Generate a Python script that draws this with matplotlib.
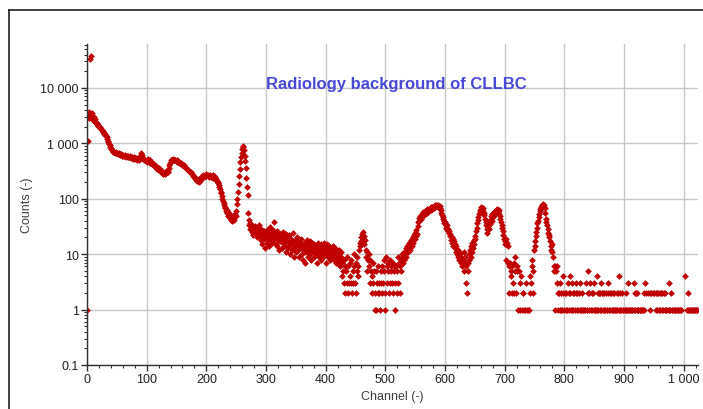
import numpy as np
import matplotlib.pyplot as plt
from matplotlib.lines import Line2D
from matplotlib.ticker import MultipleLocator, LogLocator, FuncFormatter, NullFormatter

plt.rcParams['font.family'] = ['Liberation Sans', 'DejaVu Sans']

# counts per channel (0 = empty channel, not drawn on log axis)
counts_0_99 = [
    1, 1100, 3200, 3700, 2900, 33000, 37000, 3400, 2800, 3600,
    2600, 3000, 2500, 2700, 2400, 2300, 2350, 2200, 2150, 2050,
    2000, 1950, 1900, 1850, 1780, 1720, 1680, 1620, 1560, 1500,
    1450, 1400, 1350, 1280, 1200, 1120, 1050, 980, 920, 860,
    810, 780, 750, 730, 710, 700, 690, 680, 670, 690,
    680, 660, 650, 640, 660, 630, 620, 640, 610, 600,
    620, 600, 590, 610, 580, 590, 570, 600, 560, 580,
    570, 560, 580, 550, 560, 540, 570, 530, 550, 560,
    540, 520, 550, 530, 510, 540, 520, 500, 530, 560,
    610, 660, 620, 570, 530, 500, 520, 490, 510, 480,
]
counts_100_249 = [
    500, 470, 520, 480, 460, 490, 450, 470, 440, 420,
    430, 410, 400, 420, 390, 380, 360, 370, 350, 340,
    360, 330, 340, 320, 300, 310, 290, 300, 280, 290,
    300, 280, 310, 290, 320, 300, 330, 360, 400, 440,
    470, 490, 500, 510, 520, 500, 510, 490, 500, 480,
    490, 470, 480, 460, 470, 450, 440, 450, 420, 430,
    410, 400, 390, 400, 380, 370, 360, 350, 340, 330,
    330, 320, 310, 300, 290, 300, 280, 270, 260, 250,
    250, 240, 230, 220, 230, 210, 215, 205, 200, 210,
    230, 250, 240, 260, 255, 270, 250, 265, 260, 280,
    260, 270, 255, 265, 250, 260, 270, 245, 255, 260,
    250, 265, 240, 255, 235, 245, 230, 220, 210, 200,
    190, 175, 160, 150, 135, 125, 110, 100, 92, 85,
    78, 72, 68, 60, 55, 62, 52, 48, 56, 45,
    50, 42, 46, 40, 44, 48, 42, 46, 52, 48,
]
counts_250_419 = [
    60, 80, 100, 130, 185, 260, 350, 460, 560, 680,
    790, 860, 900, 760, 600, 480, 360, 235, 165, 115,
    55, 42, 33, 36, 29, 31, 25, 34, 28, 22,
    30, 26, 32, 24, 27, 20, 29, 23, 33, 25,
    21, 28, 18, 24, 15, 22, 26, 19, 13, 23,
    21, 25, 16, 28, 19, 14, 22, 31, 18, 24,
    16, 20, 27, 38, 19, 23, 15, 21, 26, 14,
    18, 24, 12, 20, 17, 22, 13, 19, 25, 16,
    21, 14, 18, 23, 11, 17, 20, 13, 16, 22,
    10, 15, 19, 12, 17, 24, 14, 9, 18, 13,
    16, 11, 20, 14, 12, 17, 9, 15, 13, 19,
    10, 14, 8, 12, 16, 7, 13, 11, 15, 18,
    12, 9, 14, 17, 10, 13, 8, 16, 11, 12,
    15, 9, 13, 10, 14, 7, 12, 16, 11, 9,
    13, 10, 15, 8, 12, 14, 9, 11, 16, 13,
    7, 10, 12, 15, 9, 11, 14, 8, 13, 10,
    12, 9, 14, 11, 8, 13, 10, 7, 12, 9,
]
counts_420_559 = [
    10, 7, 12, 8, 6, 11, 9, 4, 7, 5,
    8, 3, 6, 2, 5, 3, 9, 2, 6, 3,
    7, 4, 3, 8, 2, 5, 3, 10, 6, 3,
    7, 2, 5, 9, 6, 4, 12, 16, 14, 20,
    17, 23, 19, 25, 21, 15, 18, 12, 9, 11,
    5, 8, 6, 10, 3, 8, 5, 2, 4, 7,
    3, 5, 1, 2, 5, 1, 3, 2, 6, 3,
    2, 1, 5, 3, 2, 6, 3, 8, 5, 2,
    1, 9, 6, 3, 7, 5, 2, 8, 3, 6,
    5, 3, 7, 2, 6, 5, 3, 1, 6, 2,
    5, 9, 3, 7, 6, 2, 8, 5, 10, 7,
    9, 11, 8, 10, 13, 9, 12, 14, 11, 13,
    16, 12, 15, 18, 14, 17, 20, 16, 22, 19,
    24, 21, 27, 23, 32, 38, 45, 40, 48, 43,
]
counts_560_789 = [
    44, 52, 48, 57, 50, 55, 61, 53, 58, 64,
    56, 62, 59, 66, 60, 68, 63, 70, 65, 72,
    67, 74, 69, 76, 71, 78, 73, 75, 70, 77,
    72, 68, 74, 62, 55, 50, 44, 47, 40, 36,
    38, 33, 30, 34, 27, 29, 24, 26, 21, 23,
    18, 20, 16, 19, 14, 17, 13, 15, 11, 14,
    10, 12, 9, 11, 8, 10, 7, 9, 6, 8,
    8, 11, 5, 7, 9, 3, 6, 2, 5, 7,
    10, 8, 12, 9, 14, 11, 16, 13, 18, 15,
    21, 19, 26, 30, 36, 41, 47, 52, 58, 62,
    66, 70, 64, 68, 60, 56, 50, 44, 38, 33,
    28, 24, 30, 36, 29, 42, 35, 48, 40, 52,
    46, 55, 50, 60, 54, 63, 58, 65, 61, 57,
    62, 53, 48, 44, 38, 34, 30, 26, 22, 19,
    17, 15, 19, 8, 16, 14, 7, 6, 2, 7,
    5, 4, 6, 2, 3, 7, 2, 9, 5, 2,
    6, 5, 0, 1, 5, 3, 1, 0, 4, 1,
    2, 2, 1, 0, 1, 0, 3, 1, 0, 1,
    1, 0, 4, 2, 3, 6, 8, 5, 2, 12,
    17, 14, 21, 25, 30, 36, 40, 47, 54, 60,
    65, 70, 74, 78, 72, 80, 76, 68, 55, 44,
    38, 33, 28, 24, 20, 22, 17, 14, 12, 15,
    11, 9, 6, 5, 6, 1, 5, 3, 6, 2,
]
counts_790_1023 = [
    1, 2, 3, 1, 2, 1, 1, 2, 4, 0,
    1, 2, 1, 2, 1, 0, 3, 2, 1, 4,
    2, 1, 3, 1, 2, 1, 2, 0, 1, 2,
    3, 1, 2, 1, 0, 2, 3, 1, 1, 2,
    1, 0, 1, 1, 0, 1, 0, 3, 1, 2,
    5, 1, 2, 3, 0, 1, 2, 1, 2, 1,
    3, 1, 0, 1, 1, 4, 2, 1, 2, 1,
    2, 1, 3, 2, 1, 2, 1, 2, 1, 0,
    2, 1, 1, 3, 2, 1, 2, 1, 0, 2,
    1, 1, 2, 1, 2, 1, 0, 1, 2, 1,
    2, 1, 4, 2, 1, 1, 2, 0, 1, 1,
    0, 1, 1, 2, 1, 1, 3, 1, 0, 1,
    1, 0, 1, 1, 1, 0, 1, 3, 2, 1,
    2, 1, 2, 1, 1, 0, 1, 1, 0, 1,
    1, 1, 0, 1, 2, 0, 3, 2, 0, 0,
    2, 0, 0, 1, 2, 0, 2, 0, 2, 0,
    2, 0, 0, 2, 1, 2, 1, 2, 1, 0,
    2, 1, 2, 1, 2, 1, 0, 2, 1, 2,
    1, 1, 0, 1, 0, 1, 3, 1, 2, 0,
    1, 1, 0, 1, 1, 0, 1, 1, 0, 1,
    1, 0, 1, 1, 0, 1, 1, 0, 0, 0,
    0, 0, 4, 0, 0, 0, 1, 1, 2, 1,
    0, 1, 1, 0, 1, 1, 0, 1, 1, 1,
    0, 1, 1, 1,
]

counts = np.array(counts_0_99 + counts_100_249 + counts_250_419 + counts_420_559
                  + counts_560_789 + counts_790_1023, dtype=float)
channels = np.arange(len(counts))
shown = counts > 0

x_ticks = list(range(0, 1001, 100))
y_ticks = [0.1, 1, 10, 100, 1000, 10000]


def spaced(v, pos):
    # thousands separator is a space: "10 000"
    if v < 1:
        return f'{v:g}'
    return f'{int(round(v)):,}'.replace(',', ' ')


fig = plt.figure(figsize=(7.03, 4.10), dpi=100)
ax = fig.add_axes([87 / 703, 44 / 410, 611 / 703, 321 / 410])

ax.plot(channels[shown], counts[shown], 'D', color='#c00000', ms=3.4, mew=0)

ax.set_yscale('log')
ax.set_xlim(0, 1024)
ax.set_ylim(0.1, 62000)

ax.set_xticks(x_ticks)
ax.xaxis.set_minor_locator(MultipleLocator(20))
ax.set_yticks(y_ticks)
ax.yaxis.set_minor_locator(LogLocator(base=10, subs=np.arange(2, 10)))
ax.yaxis.set_minor_formatter(NullFormatter())
ax.xaxis.set_major_formatter(FuncFormatter(spaced))
ax.yaxis.set_major_formatter(FuncFormatter(spaced))

ax.grid(True, which='major', color='#c8c8c8', lw=1)
ax.set_axisbelow(True)
for side in ['top', 'right']:
    ax.spines[side].set_visible(False)
for side in ['left', 'bottom']:
    ax.spines[side].set_color('#303030')
    ax.spines[side].set_linewidth(1)

ax.tick_params(which='major', direction='out', length=4, width=1, color='#303030',
               labelsize=9, labelcolor='#202020', pad=2)
ax.tick_params(which='minor', direction='out', length=2, width=0.8, color='#303030')

# title sits inside the plot area
fig.text(396 / 703, 1 - 85 / 410, 'Radiology background of CLLBC', ha='center', va='center',
         fontsize=12, fontweight='bold', color='#4848d8')
fig.text(27 / 703, 1 - 205 / 410, 'Counts (-)', rotation=90, ha='center', va='center',
         fontsize=9, color='#404040')
fig.text(392 / 703, 1 - 397 / 410, 'Channel (-)', ha='center', va='center',
         fontsize=9, color='#404040')

# outer frame of the chart panel (top and left edges visible)
fig.add_artist(Line2D([9 / 703, 1], [1 - 11 / 410] * 2, transform=fig.transFigure,
                      color='#202020', lw=1.2))
fig.add_artist(Line2D([9 / 703] * 2, [0, 1 - 11 / 410], transform=fig.transFigure,
                      color='#202020', lw=1.2))

fig.savefig('out.png', dpi=100)
